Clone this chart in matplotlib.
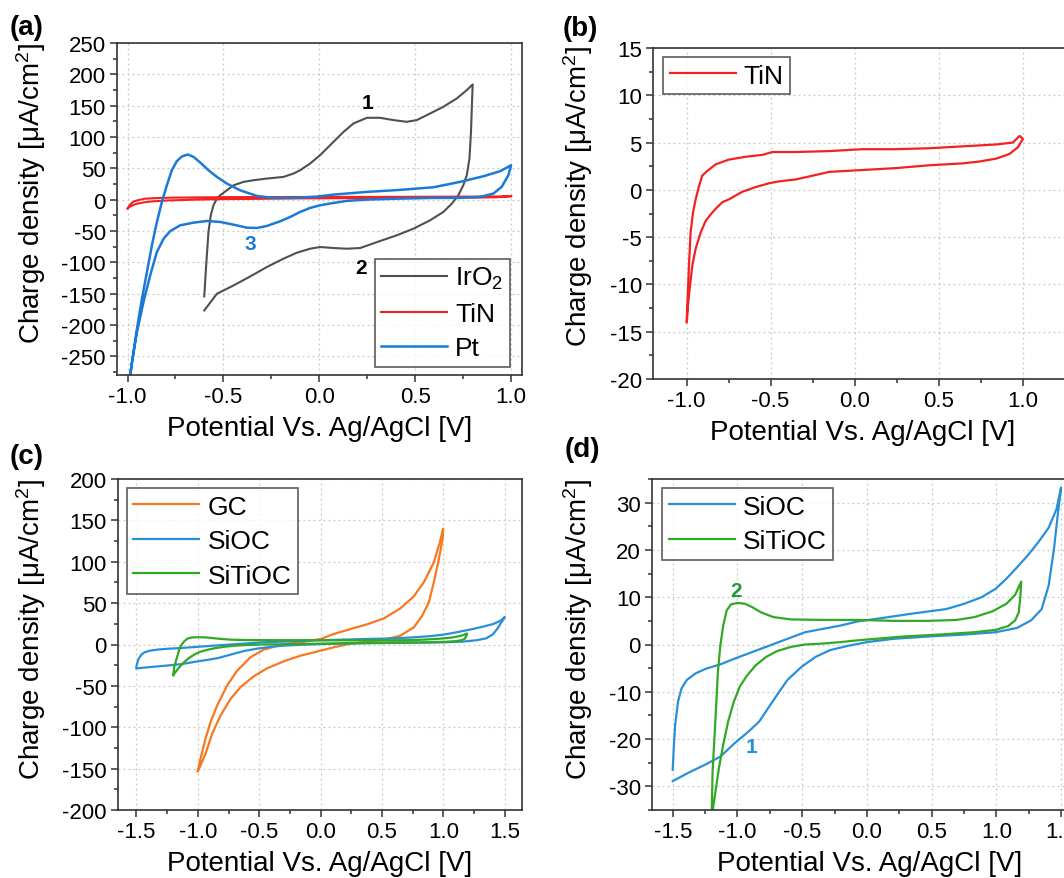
import matplotlib
matplotlib.use("Agg")
import matplotlib.pyplot as plt
from matplotlib.ticker import MultipleLocator, AutoMinorLocator

plt.rcParams.update({
    "font.family": ["Liberation Sans", "DejaVu Sans"],
    "mathtext.fontset": "custom",
    "mathtext.rm": "Liberation Sans",
    "mathtext.it": "Liberation Sans",
    "font.size": 16,
    "axes.unicode_minus": False,
})

# ---- IrO2 (panel a), forward then reverse sweep
iro2_v = [-0.600, -0.590, -0.578, -0.566, -0.552, -0.534, -0.517, -0.482, -0.447, -0.395,
          -0.343, -0.274, -0.187, -0.135, -0.100, -0.048, 0.004, 0.074, 0.126, 0.178,
          0.248, 0.317, 0.387, 0.456, 0.508, 0.578, 0.647, 0.717, 0.769, 0.800,
          0.797, 0.791, 0.783, 0.769, 0.751, 0.725, 0.691, 0.647, 0.578, 0.491,
          0.404, 0.317, 0.213, 0.143, 0.074, 0.004, -0.048, -0.117, -0.187, -0.274,
          -0.360, -0.447, -0.534, -0.600]
iro2_i = [-154.6, -105.0, -51.7, -25.0, -9.1, 1.6, 6.9, 14.9, 22.9, 28.3,
          30.9, 33.6, 36.2, 41.6, 46.9, 57.6, 70.9, 92.2, 108.0, 121.5,
          130.6, 130.6, 126.9, 124.2, 126.9, 137.5, 148.2, 161.5, 174.8, 183.9,
          161.5, 108.2, 65.6, 38.9, 22.9, 6.9, -6.4, -19.7, -33.0, -46.4,
          -57.0, -66.1, -77.3, -78.4, -77.3, -75.7, -78.4, -84.8, -94.3, -107.7,
          -122.6, -137.0, -150.3, -177.0]

# ---- Pt (panel a)
pt_v = [-0.986, -0.969, -0.951, -0.925, -0.899, -0.873, -0.847, -0.821, -0.795, -0.769,
        -0.743, -0.717, -0.686, -0.656, -0.621, -0.578, -0.534, -0.482, -0.413, -0.326,
        -0.239, -0.135, -0.013, 0.074, 0.248, 0.421, 0.595, 0.734, 0.856, 0.943,
        1.000, 0.986, 0.951, 0.908, 0.838, 0.734, 0.595, 0.421, 0.248, 0.143,
        0.074, 0.004, -0.048, -0.100, -0.152, -0.204, -0.274, -0.326, -0.378, -0.447,
        -0.517, -0.586, -0.656, -0.725, -0.777, -0.812, -0.847, -0.882, -0.917, -0.951,
        -0.977, -0.995]
pt_i = [-279.8, -243.6, -206.3, -158.3, -115.7, -73.0, -35.7, -3.7, 22.9, 46.9,
        61.3, 68.8, 72.0, 68.2, 59.2, 46.9, 36.2, 25.6, 14.9, 5.9,
        2.7, 2.7, 4.8, 8.0, 12.3, 15.5, 19.7, 28.3, 37.3, 45.3,
        54.9, 38.9, 20.3, 9.6, 4.3, 2.7, 2.7, 1.6, 0.0, -2.1,
        -5.3, -9.1, -13.3, -19.7, -27.7, -34.6, -42.1, -45.3, -44.8, -40.0,
        -35.7, -34.1, -36.8, -41.0, -50.1, -62.4, -83.7, -121.0, -163.6, -211.6,
        -259.6, -300.0]

# ---- TiN (panels a and b)
tin_v = [-1.000, -0.994, -0.986, -0.976, -0.962, -0.946, -0.926, -0.907, -0.877, -0.827,
         -0.748, -0.648, -0.549, -0.489, -0.350, -0.151, 0.048, 0.247, 0.445, 0.644,
         0.843, 0.942, 0.982, 1.002, 0.972, 0.922, 0.843, 0.744, 0.644, 0.445,
         0.247, 0.048, -0.052, -0.151, -0.250, -0.350, -0.449, -0.509, -0.588, -0.668,
         -0.748, -0.787, -0.827, -0.857, -0.887, -0.916, -0.946, -0.966, -0.982, -0.992,
         -0.998]
tin_i = [-14.0, -11.5, -8.0, -4.5, -2.4, -1.0, 0.4, 1.5, 2.0, 2.7,
         3.2, 3.5, 3.7, 4.0, 4.0, 4.1, 4.3, 4.3, 4.4, 4.6,
         4.8, 5.0, 5.7, 5.4, 4.5, 3.8, 3.3, 3.0, 2.8, 2.6,
         2.3, 2.1, 2.0, 1.9, 1.5, 1.1, 0.9, 0.7, 0.3, -0.2,
         -1.0, -1.3, -2.0, -2.6, -3.3, -4.5, -6.2, -8.0, -10.5, -12.2,
         -13.8]

# ---- GC (panel c)
gc_v = [-1.000, -0.979, -0.938, -0.897, -0.843, -0.762, -0.680, -0.572, -0.463, -0.300,
        -0.164, -0.001, 0.107, 0.243, 0.379, 0.515, 0.650, 0.759, 0.840, 0.922,
        0.971, 0.998, 0.993, 0.963, 0.922, 0.881, 0.827, 0.759, 0.650, 0.515,
        0.379, 0.243, 0.107, -0.001, -0.164, -0.300, -0.436, -0.544, -0.653, -0.734,
        -0.816, -0.884, -0.938, -0.984, -1.000]
gc_i = [-153.0, -138.4, -114.2, -94.1, -73.9, -49.7, -31.6, -15.5, -6.2, 0.6,
        2.6, 6.6, 12.7, 18.7, 24.4, 31.6, 43.7, 58.2, 75.1, 99.3,
        123.5, 140.0, 127.1, 103.3, 75.1, 51.0, 34.8, 20.7, 10.7, 5.8,
        3.4, 1.0, -3.4, -7.5, -13.5, -20.3, -28.8, -38.3, -51.6, -65.9,
        -86.0, -108.2, -132.4, -148.0, -153.0]

# ---- SiOC (panels c and d)
sioc_v = [-1.500, -1.377, -1.241, -1.132, -1.023, -0.914, -0.832, -0.764, -0.695, -0.614,
          -0.504, -0.395, -0.286, -0.150, 0.000, 0.205, 0.477, 0.750, 0.995, 1.159,
          1.268, 1.350, 1.404, 1.445, 1.473, 1.500, 1.464, 1.404, 1.323, 1.241,
          1.159, 1.077, 0.995, 0.886, 0.750, 0.614, 0.341, 0.068, -0.068, -0.205,
          -0.341, -0.477, -0.614, -0.750, -0.886, -1.023, -1.132, -1.241, -1.323, -1.391,
          -1.432, -1.459, -1.481, -1.492, -1.500]
sioc_i = [-28.9, -27.1, -25.3, -23.7, -20.9, -18.4, -16.3, -13.5, -10.7, -7.5,
          -4.7, -2.6, -1.2, -0.3, 0.5, 1.2, 1.7, 2.1, 2.6, 3.5,
          5.1, 7.5, 12.5, 20.2, 27.2, 33.2, 28.6, 24.7, 21.6, 18.8,
          16.3, 13.9, 11.8, 10.0, 8.6, 7.5, 6.5, 5.4, 4.9, 4.0,
          3.3, 2.6, 1.2, -0.2, -1.6, -3.0, -4.2, -5.1, -6.1, -7.5,
          -9.3, -12.1, -17.0, -21.9, -26.5]

# ---- SiTiOC (panels c and d)
sitioc_v = [-1.200, -1.192, -1.178, -1.164, -1.151, -1.132, -1.110, -1.083, -1.050, -0.995,
            -0.941, -0.886, -0.818, -0.723, -0.586, -0.341, -0.068, 0.205, 0.477, 0.695,
            0.832, 0.968, 1.077, 1.145, 1.192, 1.186, 1.173, 1.145, 1.091, 0.995,
            0.832, 0.559, 0.286, 0.068, -0.068, -0.205, -0.341, -0.477, -0.586, -0.695,
            -0.777, -0.859, -0.927, -0.982, -1.028, -1.072, -1.110, -1.143, -1.170, -1.192,
            -1.200]
sitioc_i = [-37.0, -26.8, -19.8, -12.8, -5.8, -0.2, 4.0, 7.2, 8.5, 8.8,
            8.6, 7.9, 6.8, 5.8, 5.3, 5.2, 5.2, 5.0, 5.0, 5.2,
            5.8, 7.0, 8.6, 10.5, 13.3, 10.4, 6.8, 5.1, 3.9, 3.1,
            2.6, 2.1, 1.7, 1.2, 0.9, 0.5, 0.2, 0.0, -0.5, -1.4,
            -2.6, -4.4, -6.6, -8.9, -12.1, -16.3, -21.2, -26.1, -31.1, -35.3,
            -37.0]

C_IRO2 = "#505050"
C_TIN = "#f52020"
C_PT = "#1a7ad6"
C_GC = "#f7781e"
C_SIOC = "#2890d8"
C_SITIOC = "#32a824"

W, H = 1064, 879
fig = plt.figure(figsize=(W / 100, H / 100), dpi=100)


def add_axes(left, top, right, bottom):
    return fig.add_axes([left / W, 1 - bottom / H, (right - left) / W, (bottom - top) / H])


def style(ax, xlim, ylim, xstep, ystep, ylab_px, ylab_y, width_px, height_px):
    ax.set_xlim(*xlim)
    ax.set_ylim(*ylim)
    ax.xaxis.set_major_locator(MultipleLocator(xstep))
    ax.yaxis.set_major_locator(MultipleLocator(ystep))
    ax.xaxis.set_minor_locator(AutoMinorLocator(2))
    ax.yaxis.set_minor_locator(AutoMinorLocator(2))
    ax.tick_params(which="major", direction="out", length=5, width=1.1, color="#333333",
                   labelsize=16, pad=3)
    ax.tick_params(which="minor", direction="out", length=3, width=1.1, color="#333333")
    for s in ax.spines.values():
        s.set_color("#333333")
        s.set_linewidth(1.2)
    ax.grid(True, which="major", color="#c8c8c8", linestyle=(0, (1.5, 2.5)), linewidth=0.9)
    ax.set_axisbelow(True)
    ax.set_xlabel("Potential Vs. Ag/AgCl [V]", fontsize=20)
    ax.set_ylabel("Charge density [μA/cm$^{2}$]", fontsize=20)
    ax.yaxis.set_label_coords(ylab_px / width_px, ylab_y)
    ax.xaxis.set_label_coords(0.5, -40 / height_px)


def legend(ax, loc, anchor):
    leg = ax.legend(loc=loc, bbox_to_anchor=anchor, fontsize=19, frameon=True,
                    fancybox=False, edgecolor="#333333", borderaxespad=0,
                    handlelength=2.5, handletextpad=0.3, labelspacing=0.4,
                    borderpad=0.25)
    leg.get_frame().set_linewidth(1.2)
    return leg


# (a)
ax = add_axes(117, 44, 522, 376)
ax.plot(iro2_v, iro2_i, color=C_IRO2, lw=1.5, label="IrO$_2$")
ax.plot(tin_v, tin_i, color=C_TIN, lw=1.5, label="TiN")
ax.plot(pt_v, pt_i, color=C_PT, lw=1.8, label="Pt")
style(ax, (-1.055, 1.057), (-280, 250), 0.5, 50, -69, 0.548, 405, 332)
legend(ax, "lower right", (0.970, 0.024))
ax.text(0.25, 155, "1", fontsize=15, fontweight="bold", ha="center", va="center")
ax.text(0.22, -108, "2", fontsize=15, fontweight="bold", ha="center", va="center")
ax.text(-0.36, -70, "3", fontsize=15, fontweight="bold", ha="center", va="center", color=C_PT)

# (b)
ax = add_axes(653, 49, 1073, 380)
ax.plot(tin_v, tin_i, color=C_TIN, lw=1.6, label="TiN")
style(ax, (-1.2, 1.3), (-20, 15), 0.5, 5, -58, 0.553, 420, 331)
legend(ax, "upper left", (0.024, 0.973))

# (c)
ax = add_axes(118, 480, 522, 811)
ax.plot(gc_v, gc_i, color=C_GC, lw=1.6, label="GC")
ax.plot(sioc_v, sioc_i, color=C_SIOC, lw=1.6, label="SiOC")
ax.plot(sitioc_v, sitioc_i, color=C_SITIOC, lw=1.6, label="SiTiOC")
style(ax, (-1.65, 1.64), (-200, 200), 0.5, 50, -70, 0.547, 404, 331)
legend(ax, "upper left", (0.022, 0.973))

# (d)
ax = add_axes(652, 480, 1087, 811)
ax.plot(sioc_v, sioc_i, color=C_SIOC, lw=1.6, label="SiOC")
ax.plot(sitioc_v, sitioc_i, color=C_SITIOC, lw=1.6, label="SiTiOC")
style(ax, (-1.66, 1.7), (-35, 35), 0.5, 10, -57, 0.547, 435, 331)
legend(ax, "upper left", (0.023, 0.973))
ax.text(-1.01, 11.4, "2", fontsize=15, fontweight="bold", ha="center", va="center", color="#1f9a3a")
ax.text(-0.89, -21.6, "1", fontsize=15, fontweight="bold", ha="center", va="center", color=C_SIOC)

# panel letters
for lab, x, y in [("(a)", 27, 28), ("(b)", 580, 29), ("(c)", 27, 457), ("(d)", 582, 450)]:
    fig.text(x / W, 1 - y / H, lab, fontsize=20, fontweight="bold", ha="center", va="center")

fig.savefig("out.png", dpi=100)
